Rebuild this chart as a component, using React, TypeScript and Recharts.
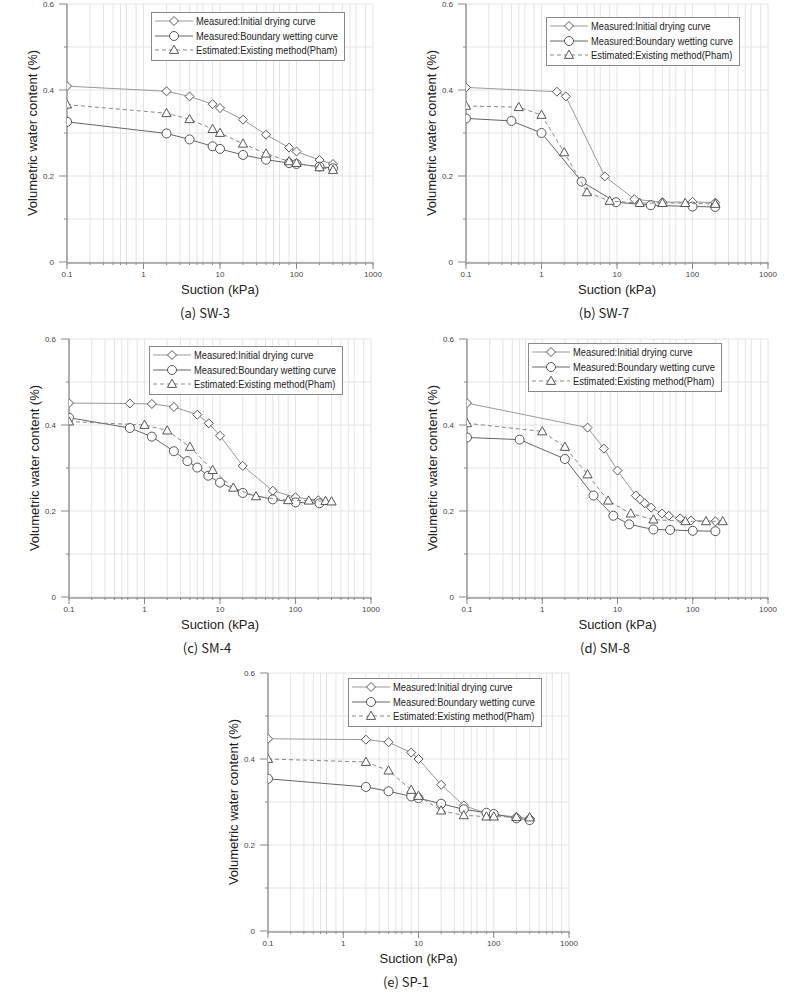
import React from 'react';
import { ScatterChart, Scatter, XAxis, YAxis, CartesianGrid } from 'recharts';

type Pt = [number, number];

// suction (kPa), volumetric water content
const SW3_DRYING: Pt[] = [[0.1, 0.409], [2, 0.397], [4, 0.385], [8, 0.367], [10, 0.358], [20, 0.331], [40, 0.296], [80, 0.266], [100, 0.257], [200, 0.237], [300, 0.228]];
const SW3_WETTING: Pt[] = [[0.1, 0.326], [2, 0.299], [4, 0.285], [8, 0.269], [10, 0.263], [20, 0.249], [40, 0.238], [80, 0.23], [100, 0.228], [200, 0.222], [300, 0.218]];
const SW3_PHAM: Pt[] = [[0.1, 0.366], [2, 0.346], [4, 0.332], [8, 0.309], [10, 0.3], [20, 0.275], [40, 0.252], [80, 0.234], [100, 0.23], [200, 0.22], [300, 0.214]];

const SW7_DRYING: Pt[] = [[0.1, 0.406], [1.6, 0.396], [2.1, 0.385], [6.9, 0.199], [17, 0.146], [40, 0.139], [100, 0.14], [200, 0.138]];
const SW7_WETTING: Pt[] = [[0.1, 0.334], [0.4, 0.328], [1, 0.3], [3.4, 0.187], [9.7, 0.139], [28, 0.132], [100, 0.129], [200, 0.128]];
const SW7_PHAM: Pt[] = [[0.1, 0.363], [0.5, 0.36], [1, 0.342], [2, 0.255], [4, 0.162], [8, 0.142], [20, 0.137], [40, 0.137], [80, 0.137], [200, 0.135]];

const SM4_DRYING: Pt[] = [[0.1, 0.451], [0.64, 0.45], [1.25, 0.449], [2.45, 0.442], [5, 0.424], [7.1, 0.404], [10, 0.375], [20, 0.305], [50, 0.247], [100, 0.232], [200, 0.225]];
const SM4_WETTING: Pt[] = [[0.1, 0.417], [0.64, 0.393], [1.25, 0.373], [2.45, 0.339], [3.7, 0.316], [5, 0.301], [7, 0.282], [10, 0.266], [20, 0.242], [50, 0.227], [100, 0.22], [208, 0.218]];
const SM4_PHAM: Pt[] = [[0.1, 0.408], [1, 0.4], [2, 0.387], [4, 0.349], [8, 0.295], [15, 0.254], [30, 0.234], [80, 0.225], [150, 0.224], [250, 0.223], [300, 0.222]];

const SM8_DRYING: Pt[] = [[0.1, 0.451], [4, 0.394], [6.6, 0.345], [10, 0.294], [17.5, 0.236], [20, 0.227], [23, 0.218], [28, 0.208], [39, 0.194], [48, 0.189], [68, 0.183], [95, 0.178], [200, 0.176]];
const SM8_WETTING: Pt[] = [[0.1, 0.371], [0.5, 0.366], [2, 0.321], [4.8, 0.236], [8.8, 0.189], [14.3, 0.169], [30, 0.157], [50, 0.156], [100, 0.154], [200, 0.153]];
const SM8_PHAM: Pt[] = [[0.1, 0.404], [1, 0.385], [2, 0.349], [4, 0.285], [7.5, 0.224], [15, 0.194], [30, 0.18], [80, 0.176], [150, 0.176], [250, 0.176]];

const SP1_DRYING: Pt[] = [[0.1, 0.447], [2, 0.445], [4, 0.439], [8, 0.415], [10, 0.4], [20, 0.34], [40, 0.292], [80, 0.273], [100, 0.271], [200, 0.265], [300, 0.262]];
const SP1_WETTING: Pt[] = [[0.1, 0.354], [2, 0.335], [4, 0.325], [8, 0.313], [10, 0.309], [20, 0.296], [40, 0.283], [80, 0.275], [100, 0.272], [200, 0.262], [300, 0.258]];
const SP1_PHAM: Pt[] = [[0.1, 0.4], [2, 0.393], [4, 0.373], [8, 0.328], [10, 0.314], [20, 0.28], [40, 0.269], [80, 0.266], [100, 0.266], [200, 0.265], [300, 0.264]];

const X_MAJOR = [0.1, 1, 10, 100, 1000];
const X_MINOR = [0.1, 0.2, 0.3, 0.4, 0.5, 0.6, 0.7, 0.8, 0.9, 1, 2, 3, 4, 5, 6, 7, 8, 9, 10, 20, 30, 40, 50, 60, 70, 80, 90, 100, 200, 300, 400, 500, 600, 700, 800, 900, 1000];
const Y_TICKS = [0, 0.1, 0.2, 0.3, 0.4, 0.5, 0.6];
const Y_LABELLED = [0, 0.2, 0.4, 0.6];

const LEGEND_LABELS = ['Measured:Initial drying curve', 'Measured:Boundary wetting curve', 'Estimated:Existing method(Pham)'];

const MK = '#444';
const SANS = "'Liberation Sans', Arial, sans-serif";

// eslint-disable-next-line @typescript-eslint/no-explicit-any
const Diamond = (p: any) => {
  const { cx, cy } = p;
  return <path d={`M${cx},${cy - 4.5}L${cx + 4.5},${cy}L${cx},${cy + 4.5}L${cx - 4.5},${cy}Z`} fill="#fff" stroke={MK} strokeWidth={0.9} />;
};
// eslint-disable-next-line @typescript-eslint/no-explicit-any
const Ring = (p: any) => <circle cx={p.cx} cy={p.cy} r={4.5} fill="#fff" stroke={MK} strokeWidth={0.9} />;
// eslint-disable-next-line @typescript-eslint/no-explicit-any
const Tri = (p: any) => {
  const { cx, cy } = p;
  return <path d={`M${cx},${cy - 4.8}L${cx + 4.6},${cy + 3.4}L${cx - 4.6},${cy + 3.4}Z`} fill="#fff" stroke={MK} strokeWidth={0.9} />;
};

const LINES = [
  { stroke: '#999', strokeWidth: 1 },
  { stroke: '#666', strokeWidth: 1 },
  { stroke: '#888', strokeWidth: 1, strokeDasharray: '4 3' },
];
const SHAPES = [Diamond, Ring, Tri];

const toData = (arr: Pt[]) => arr.map(([s, v]) => ({ s, v }));

// y tick: long mark + label on 0.2 steps, short mark on the others
// eslint-disable-next-line @typescript-eslint/no-explicit-any
const YTick = (p: any) => {
  const { x, y, payload } = p;
  const v = payload.value;
  const major = Y_LABELLED.some((m) => Math.abs(m - v) < 1e-6);
  const ax = x + 13;
  return (
    <g>
      <line x1={ax - (major ? 8 : 3)} x2={ax} y1={y} y2={y} stroke="#888" />
      {major && (
        <text x={x} y={y} dy="0.32em" textAnchor="end" fontSize={8} fill="#444" fontFamily={SANS}>{String(v)}</text>
      )}
    </g>
  );
};

function Legend({ x, y }: { x: number; y: number }) {
  return (
    <div style={{ position: 'absolute', left: x, top: y, width: 194, height: 49, border: '1px solid #888', background: '#fff', boxSizing: 'border-box' }}>
      {LEGEND_LABELS.map((lab, i) => {
        const S = SHAPES[i];
        return (
          <div key={i} style={{ position: 'absolute', left: 2, top: 1 + i * 14.5, height: 14, display: 'flex', alignItems: 'center' }}>
            <svg width={40} height={14}>
              <line x1={1} x2={39} y1={7} y2={7} {...LINES[i]} />
              <S cx={20} cy={7} />
            </svg>
            <span style={{ display: 'inline-block', fontFamily: SANS, fontSize: 11, color: '#222', marginLeft: 2, whiteSpace: 'nowrap', transform: 'scaleX(0.85)', transformOrigin: 'left center' }}>{lab}</span>
          </div>
        );
      })}
    </div>
  );
}

interface PanelProps {
  L: number; T: number; R: number; B: number;
  drying: Pt[]; wetting: Pt[]; pham: Pt[];
  caption: string; lx: number; ly: number;
}

function Panel({ L, T, R, B, drying, wetting, pham, caption, lx, ly }: PanelProps) {
  const w = R - L;
  const h = B - T;
  const series = [drying, wetting, pham];
  return (
    <>
      <div style={{ position: 'absolute', left: L - 60, top: T - 10 }}>
        <ScatterChart width={w + 80} height={h + 40} margin={{ top: 10, right: 20, bottom: 0, left: 0 }}>
          <CartesianGrid xAxisId="mx" yAxisId="y" stroke="#e4e4e4" />
          <XAxis xAxisId="mx" dataKey="s" type="number" scale="log" domain={[0.1, 1000]} ticks={X_MINOR}
            allowDataOverflow height={1} tickSize={3} tickLine={{ stroke: '#888' }} axisLine={false} tickFormatter={() => ''} />
          <XAxis xAxisId="x" dataKey="s" type="number" scale="log" domain={[0.1, 1000]} ticks={X_MAJOR}
            allowDataOverflow height={29} tickSize={6} tickMargin={2} tickLine={{ stroke: '#888' }}
            axisLine={{ stroke: '#999', strokeWidth: 1.5 }} tick={{ fontSize: 8, fill: '#444', fontFamily: SANS }}
            tickFormatter={(v) => String(v)} />
          <YAxis yAxisId="y" dataKey="v" type="number" domain={[0, 0.6]} ticks={Y_TICKS} width={60}
            tickSize={8} tickMargin={5} tickLine={false}
            axisLine={{ stroke: '#999', strokeWidth: 1.5 }} tick={YTick} />
          {series.map((d, i) => (
            <Scatter key={i} xAxisId="x" yAxisId="y" data={toData(d)} line={LINES[i]} lineType="joint"
              shape={SHAPES[i]} isAnimationActive={false} />
          ))}
        </ScatterChart>
      </div>
      <div style={{ position: 'absolute', left: L, width: w, top: B + 20, textAlign: 'center', fontFamily: SANS, fontSize: 13, color: '#222' }}>
        Suction (kPa)
      </div>
      <div style={{ position: 'absolute', left: L - 34 - 100, top: (T + B) / 2 - 8, width: 200, textAlign: 'center', transform: 'rotate(-90deg)', fontFamily: SANS, fontSize: 13, color: '#222', lineHeight: '16px' }}>
        Volumetric water content (%)
      </div>
      <div style={{ position: 'absolute', left: L + 138 - 60, width: 120, top: B + 43, textAlign: 'center', fontFamily: "'Noto Sans CJK KR', sans-serif", fontSize: 13, color: '#222', lineHeight: '16px' }}>
        {caption}
      </div>
      <Legend x={L + lx} y={T + ly} />
    </>
  );
}

export default function App() {
  return (
    <div style={{ position: 'absolute', left: 0, top: 0, width: 800, height: 1003, background: '#fff', overflow: 'hidden' }}>
      <Panel L={67} T={4} R={373} B={262} drying={SW3_DRYING} wetting={SW3_WETTING} pham={SW3_PHAM} caption="(a) SW-3" lx={84} ly={8} />
      <Panel L={466} T={4} R={768} B={262} drying={SW7_DRYING} wetting={SW7_WETTING} pham={SW7_PHAM} caption="(b) SW-7" lx={80} ly={13} />
      <Panel L={69} T={339} R={371} B={597} drying={SM4_DRYING} wetting={SM4_WETTING} pham={SM4_PHAM} caption="(c) SM-4" lx={80} ly={7} />
      <Panel L={467} T={339} R={768} B={597} drying={SM8_DRYING} wetting={SM8_WETTING} pham={SM8_PHAM} caption="(d) SM-8" lx={61} ly={4} />
      <Panel L={268} T={673} R={569} B={931} drying={SP1_DRYING} wetting={SP1_WETTING} pham={SP1_PHAM} caption="(e) SP-1" lx={80} ly={5} />
    </div>
  );
}
